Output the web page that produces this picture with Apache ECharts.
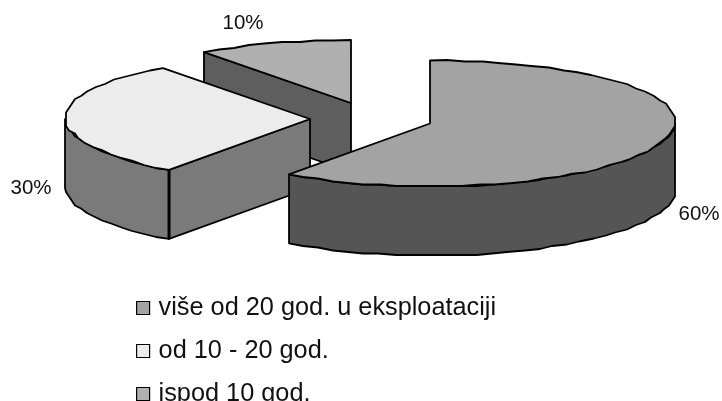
<!DOCTYPE html>
<html>
<head>
<meta charset="utf-8">
<style>
  html, body { margin: 0; padding: 0; background: #fff; overflow: hidden; }
  #chart { width: 722px; height: 401px; }
</style>
<script src="https://cdn.jsdelivr.net/npm/echarts@6/dist/echarts.min.js"></script>
</head>
<body>
<div id="chart"></div>
<script>
const categories = ['više od 20 god. u eksploataciji', 'od 10 - 20 god.', 'ispod 10 god.'];
const shares = [60, 30, 10];
const topColors = ['#a3a3a3', '#ececec', '#b0b0b0'];
const sideColors = ['#555555', '#7a7a7a', '#5e5e5e'];
// apex of each exploded slice and where its label goes
const apexes = [[430, 123.5], [310, 119], [351, 103]];
const labelSpots = [[699, 214], [31, 188], [243, 23]];

const radiusX = 245, radiusY = 63, depth = 69, tilt = 0.026, arcStep = 4;
const snapX = 3, snapY = 1.5; // rough rim like the original metafile
const fontName = '"Liberation Sans", Arial, sans-serif';
const total = shares.reduce((a, b) => a + b, 0);

// angle in degrees, clockwise from 12 o'clock
function rimPoint(apex, deg, drop) {
    const t = deg * Math.PI / 180;
    return [
        apex[0] + radiusX * Math.sin(t) * (1 + tilt * Math.cos(t)),
        apex[1] - radiusY * Math.cos(t) + (drop || 0)
    ];
}

function arc(apex, from, to, drop) {
    const pts = [];
    const n = Math.max(1, Math.round((to - from) / arcStep));
    for (let i = 0; i <= n; i++) {
        const p = rimPoint(apex, from + (to - from) * i / n, drop);
        if (i === 0 || i === n) {
            pts.push(p);
        } else {
            pts.push([Math.round(p[0] / snapX) * snapX, Math.round(p[1] / snapY) * snapY]);
        }
    }
    return pts;
}

function face(points, fill) {
    return {
        type: 'polygon',
        shape: { points: points },
        style: { fill: fill, stroke: '#000', lineWidth: 1.8, lineJoin: 'round' }
    };
}

function renderSlice(idx) {
    const start = shares.slice(0, idx).reduce((a, b) => a + b, 0) / total * 360;
    const end = start + shares[idx] / total * 360;
    const apex = apexes[idx];
    const kids = [];
    // outer wall only shows on the front half of the rim
    const wallFrom = Math.max(start, 90), wallTo = Math.min(end, 270);
    if (wallTo > wallFrom) {
        const rim = arc(apex, wallFrom, wallTo, 0);
        const low = arc(apex, wallFrom, wallTo, depth).reverse();
        kids.push(face(rim.concat(low), sideColors[idx]));
    }
    // cut face turned to the viewer
    if (idx > 0) {
        const p = rimPoint(apex, start, 0);
        kids.push(face([apex, p, [p[0], p[1] + depth], [apex[0], apex[1] + depth]], sideColors[idx]));
        if (idx === 1) {
            kids.push({
                type: 'line',
                shape: { x1: p[0], y1: p[1], x2: p[0], y2: p[1] + depth },
                style: { stroke: '#000', lineWidth: 3 }
            });
        }
    }
    kids.push(face([apex].concat(arc(apex, start, end, 0)), topColors[idx]));
    kids.push({
        type: 'text',
        style: {
            text: shares[idx] + '%',
            x: labelSpots[idx][0],
            y: labelSpots[idx][1],
            align: 'center',
            verticalAlign: 'middle',
            font: '20.5px ' + fontName,
            fill: '#111'
        }
    });
    return { type: 'group', children: kids };
}

// draw back slices first
const drawOrder = [2, 1, 0];
const series = drawOrder.map(i => ({
    type: 'custom',
    name: categories[i],
    coordinateSystem: 'none',
    silent: true,
    animation: false,
    itemStyle: { color: topColors[i] },
    data: [[shares[i]]],
    renderItem: () => renderSlice(i)
}));

const myChart = echarts.init(document.getElementById('chart'), null, { renderer: 'canvas' });
const option = {
    animation: false,
    backgroundColor: '#fff',
    legend: {
        orient: 'vertical',
        left: 136,
        top: 293,
        height: 130,
        padding: 0,
        data: categories,
        icon: 'rect',
        itemWidth: 13,
        itemHeight: 13,
        itemGap: 13,
        selectedMode: false,
        itemStyle: { borderColor: '#000', borderWidth: 1.2 },
        textStyle: {
            fontFamily: fontName,
            fontSize: 25.3,
            color: '#111',
            padding: [0, 0, 0, 4],
            lineHeight: 30
        }
    },
    series: series
};
option && myChart.setOption(option);
</script>
</body>
</html>
